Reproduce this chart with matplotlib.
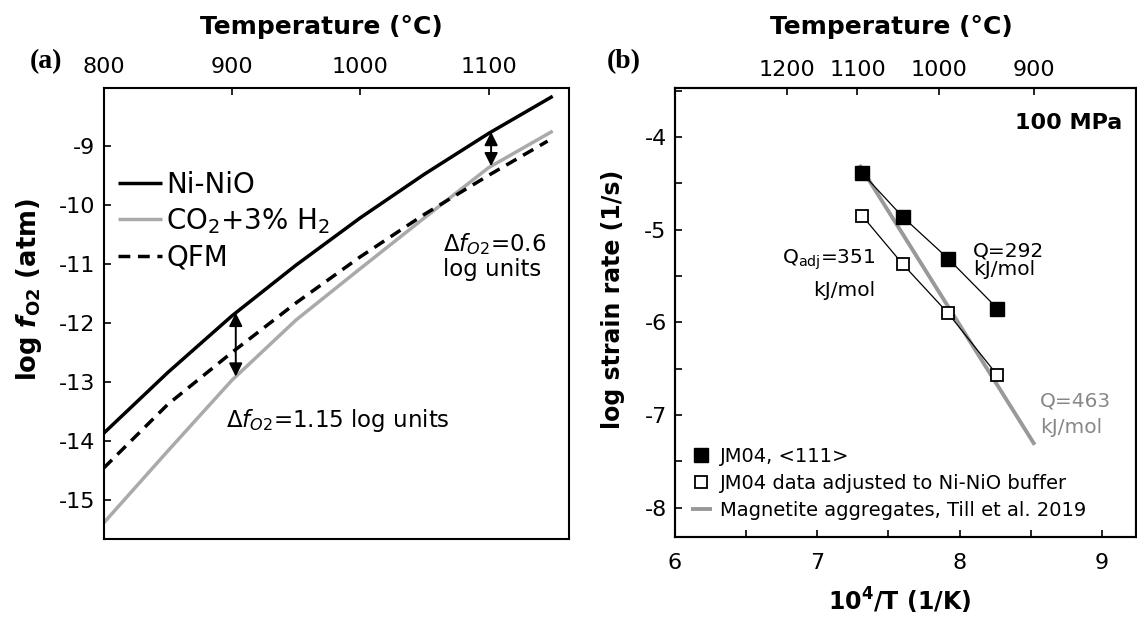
import numpy as np
import matplotlib
matplotlib.use('Agg')
import matplotlib.pyplot as plt
from matplotlib.ticker import MultipleLocator

plt.rcParams['font.family'] = ['DejaVu Sans']
plt.rcParams['axes.unicode_minus'] = False
plt.rcParams['mathtext.default'] = 'regular'

# ---- panel (a): oxygen fugacity buffers ----
T_a = [800, 850, 900, 950, 1000, 1050, 1100, 1150]
nno = [-13.87, -12.84, -11.88, -11.02, -10.22, -9.48, -8.79, -8.16]
co2h2 = [-15.39, -14.17, -12.97, -11.95, -11.08, -10.22, -9.37, -8.75]
T_qfm = [800, 850, 900, 950, 1000, 1050, 1100, 1146]
qfm = [-14.46, -13.38, -12.50, -11.66, -10.88, -10.16, -9.50, -8.92]
arrow_T = [903, 1102]

# ---- panel (b): strain rate vs inverse temperature ----
invT = [7.316, 7.600, 7.919, 8.266]
jm04 = [-4.39, -4.86, -5.31, -5.85]
jm04_adj = [-4.85, -5.37, -5.90, -6.57]
till_x = [7.296, 8.528]
till_y = [-4.30, -7.32]
top_T = [1200, 1100, 1000, 900]

W, H = 1137, 618
fig = plt.figure(figsize=(W / 100, H / 100), dpi=100)

ax = fig.add_axes([103.6 / W, 1 - 539 / H, (569 - 103.6) / W, (539 - 88) / H])
ax.plot(T_a, nno, color='black', lw=2.5, label='Ni-NiO', solid_capstyle='butt')
ax.plot(T_a, co2h2, color='#aaaaaa', lw=2.5, label='CO$_2$+3% H$_2$', solid_capstyle='butt')
ax.plot(T_qfm, qfm, color='black', lw=2.5, ls=(0, (3.4, 2.2)), label='QFM')
for t in arrow_T:
    y1 = np.interp(t, T_a, nno)
    y2 = np.interp(t, T_a, co2h2)
    ax.annotate('', xy=(t, y2), xytext=(t, y1),
                arrowprops=dict(arrowstyle='<|-|>', color='black', lw=1.4,
                                mutation_scale=20, shrinkA=0, shrinkB=0))
ax.set_xlim(800, 1162.7)
ax.set_ylim(-15.66, -8.02)
ax.xaxis.tick_top()
ax.set_xticks([800, 900, 1000, 1100])
ax.set_yticks([-15, -14, -13, -12, -11, -10, -9])
ax.tick_params(direction='in', labelsize=16, length=5, width=1.2)
ax.tick_params(axis='x', pad=8)
ax.tick_params(axis='y', pad=6)
for s in ax.spines.values():
    s.set_linewidth(1.5)
ax.legend(loc='upper left', bbox_to_anchor=(0.03, 0.816), frameon=False, fontsize=20,
          handlelength=1.6, handletextpad=0.15, labelspacing=0.26, borderaxespad=0, borderpad=0)
ax.text(1064.5, -10.66, r'$\Delta\mathit{f}_{\mathit{O2}}$=0.6', fontsize=16.5, va='center', ha='left')
ax.text(1064.5, -11.1, 'log units', fontsize=16.5, va='center', ha='left')
ax.text(895.5, -13.65, r'$\Delta\mathit{f}_{\mathit{O2}}$=1.15 log units', fontsize=16.5, va='center', ha='left')

fig.text(321 / W, 1 - 27 / H, 'Temperature (°C)', fontsize=18, fontweight='bold', ha='center', va='center')
fig.text(29 / W, 1 - 290 / H, r'log $\mathbfit{f}_{O2}$ (atm)', fontsize=18.5, fontweight='bold',
         rotation=90, ha='center', va='center')
fig.text(46 / W, 1 - 62 / H, '(a)', fontsize=20, fontweight='bold', family='Liberation Serif',
         ha='center', va='center')

# ---- panel (b) ----
bx = fig.add_axes([675 / W, 1 - 536.5 / H, (1136 - 675) / W, (536.5 - 88) / H])
bx.plot(invT, jm04, color='black', lw=0.9, zorder=2)
bx.plot(invT, jm04_adj, color='black', lw=0.9, zorder=2)
bx.plot(till_x, till_y, color='#999999', lw=2.8, zorder=1,
        label='Magnetite aggregates, Till et al. 2019', solid_capstyle='butt')
bx.plot(invT, jm04, ls='none', marker='s', ms=9.5, color='black', zorder=3, label='JM04, <111>')
bx.plot(invT, jm04_adj, ls='none', marker='s', ms=8.5, mfc='white', mec='black', mew=1.3,
        zorder=3, label='JM04 data adjusted to Ni-NiO buffer')
bx.set_xlim(6, 9.24)
bx.set_ylim(-8.31, -3.47)
bx.set_xticks([6, 7, 8, 9])
bx.set_yticks([-8, -7, -6, -5, -4])
bx.xaxis.set_minor_locator(MultipleLocator(0.5))
bx.yaxis.set_minor_locator(MultipleLocator(0.5))
bx.tick_params(which='both', direction='in', labelsize=16, width=1.2, length=5)
bx.tick_params(axis='x', pad=12)
bx.tick_params(axis='y', pad=6)
for s in bx.spines.values():
    s.set_linewidth(1.5)
h, l = bx.get_legend_handles_labels()
order = [1, 2, 0]
bx.legend([h[i] for i in order], [l[i] for i in order], loc='lower left',
          bbox_to_anchor=(0.035, 0.037), frameon=False, fontsize=14,
          handlelength=1.05, handletextpad=0.45, labelspacing=0.42, borderaxespad=0, borderpad=0)

bt = bx.twiny()
bt.set_xlim(bx.get_xlim())
bt.set_xticks(1e4 / (np.array(top_T) + 273.15))
bt.set_xticklabels([str(t) for t in top_T])
bt.tick_params(direction='in', labelsize=16, length=5, width=1.2, pad=6)
for s in bt.spines.values():
    s.set_linewidth(1.5)

bx.text(9.14, -3.85, '100 MPa', fontsize=16, fontweight='bold', ha='right', va='center')
bx.text(8.094, -5.23, 'Q=292', fontsize=14.5, ha='left', va='center')
bx.text(8.094, -5.43, 'kJ/mol', fontsize=14.5, ha='left', va='center')
bx.text(7.41, -5.32, 'Q$_{adj}$=351', fontsize=14.5, ha='right', va='center')
bx.text(7.41, -5.65, 'kJ/mol', fontsize=14.5, ha='right', va='center')
bx.text(8.567, -6.85, 'Q=463', fontsize=14.5, ha='left', va='center', color='#888888')
bx.text(8.567, -7.13, 'kJ/mol', fontsize=14.5, ha='left', va='center', color='#888888')

fig.text(891.5 / W, 1 - 27 / H, 'Temperature (°C)', fontsize=18, fontweight='bold', ha='center', va='center')
fig.text(613 / W, 1 - 299 / H, 'log strain rate (1/s)', fontsize=17, fontweight='bold',
         rotation=90, ha='center', va='center')
fig.text(900 / W, 1 - 601 / H, r'10$^{\mathbf{4}}$/T (1/K)', fontsize=17, fontweight='bold',
         ha='center', va='center')
fig.text(624 / W, 1 - 62 / H, '(b)', fontsize=20, fontweight='bold', family='Liberation Serif',
         ha='center', va='center')

fig.savefig('out.png', dpi=100)
